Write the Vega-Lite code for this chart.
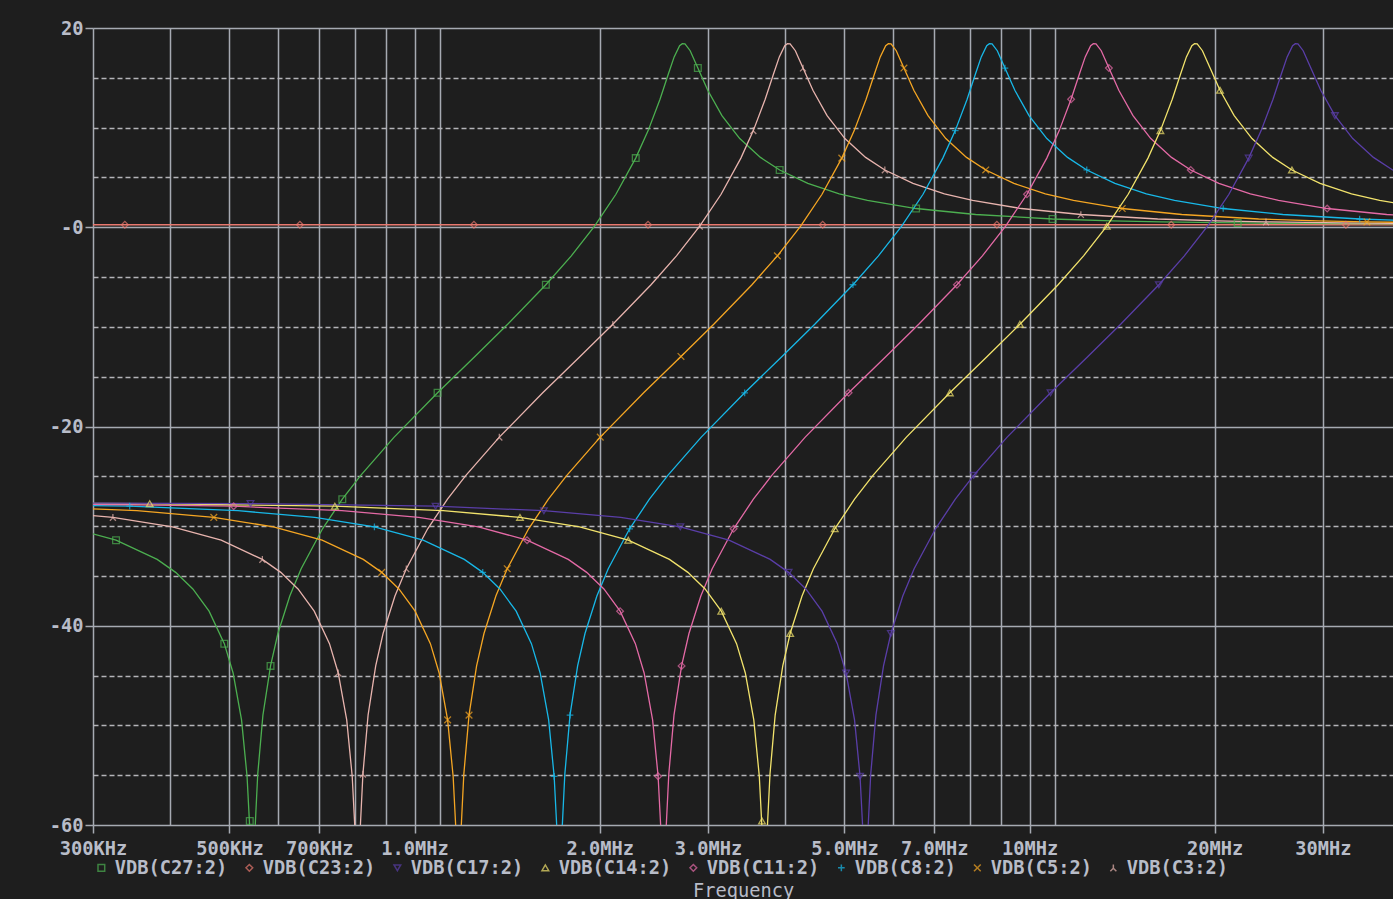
{
  "$schema": "https://vega.github.io/schema/vega-lite/v6.json",
  "width": 1300,
  "height": 797,
  "autosize": {"type": "none"},
  "padding": {"left": 93, "top": 28, "right": 0, "bottom": 74},
  "background": "#1e1e1e",
  "config": {"view": {"stroke": null}, "font": "DejaVu Sans Mono"},
  "datasets": {
    "curves": [
      {"t":"C23","f":0.25,"db":0.25},{"t":"C23","f":0.338,"db":0.25},{"t":"C23","f":0.651,"db":0.25},{"t":"C23","f":1.249,"db":0.25},{"t":"C23","f":2.397,"db":0.25},{"t":"C23","f":4.61,"db":0.25},{"t":"C23","f":8.85,"db":0.25},{"t":"C23","f":17.0,"db":0.25},{"t":"C23","f":32.7,"db":0.25},{"t":"C23","f":45,"db":0.25},

      {"t":"C27","f":0.2725,"db":-30.07},{"t":"C27","f":0.327,"db":-31.41},{"t":"C27","f":0.3815,"db":-33.34},{"t":"C27","f":0.4088,"db":-34.64},{"t":"C27","f":0.436,"db":-36.31},{"t":"C27","f":0.4633,"db":-38.54},{"t":"C27","f":0.4905,"db":-41.8},{"t":"C27","f":0.5069,"db":-44.74},{"t":"C27","f":0.5232,"db":-49.45},{"t":"C27","f":0.5341,"db":-55.11},{"t":"C27","f":0.5396,"db":-60.37},{"t":"C27","f":0.545,"db":-67.3},{"t":"C27","f":0.5505,"db":-60.26},{"t":"C27","f":0.5559,"db":-54.89},{"t":"C27","f":0.5668,"db":-48.97},{"t":"C27","f":0.5832,"db":-44.03},{"t":"C27","f":0.5995,"db":-40.78},{"t":"C27","f":0.6268,"db":-37.02},{"t":"C27","f":0.654,"db":-34.28},{"t":"C27","f":0.7085,"db":-30.27},{"t":"C27","f":0.763,"db":-27.3},{"t":"C27","f":0.8175,"db":-24.91},{"t":"C27","f":0.9265,"db":-21.07},{"t":"C27","f":1.09,"db":-16.62},{"t":"C27","f":1.2535,"db":-12.97},{"t":"C27","f":1.417,"db":-9.74},{"t":"C27","f":1.635,"db":-5.77},{"t":"C27","f":1.7985,"db":-2.87},{"t":"C27","f":1.962,"db":0.11},{"t":"C27","f":2.1255,"db":3.31},{"t":"C27","f":2.289,"db":6.94},{"t":"C27","f":2.398,"db":9.7},{"t":"C27","f":2.507,"db":12.85},{"t":"C27","f":2.5888,"db":15.45},{"t":"C27","f":2.6433,"db":17.1},{"t":"C27","f":2.6978,"db":18.22},{"t":"C27","f":2.725,"db":18.42},{"t":"C27","f":2.7523,"db":18.4},{"t":"C27","f":2.8068,"db":17.72},{"t":"C27","f":2.8885,"db":15.98},{"t":"C27","f":2.9975,"db":13.75},{"t":"C27","f":3.161,"db":11.2},{"t":"C27","f":3.379,"db":8.9},{"t":"C27","f":3.6515,"db":7.01},{"t":"C27","f":3.924,"db":5.75},{"t":"C27","f":4.36,"db":4.4},{"t":"C27","f":4.905,"db":3.36},{"t":"C27","f":5.45,"db":2.69},{"t":"C27","f":6.54,"db":1.88},{"t":"C27","f":8.175,"db":1.28},{"t":"C27","f":10.9,"db":0.83},{"t":"C27","f":13.625,"db":0.64},{"t":"C27","f":16.35,"db":0.54},{"t":"C27","f":21.8,"db":0.43},{"t":"C27","f":27.25,"db":0.38},{"t":"C27","f":39.24,"db":0.34},

      {"t":"C3","f":0.2424,"db":-28.45},{"t":"C3","f":0.3232,"db":-29.12},{"t":"C3","f":0.404,"db":-30.07},{"t":"C3","f":0.4848,"db":-31.41},{"t":"C3","f":0.5656,"db":-33.34},{"t":"C3","f":0.606,"db":-34.64},{"t":"C3","f":0.6464,"db":-36.31},{"t":"C3","f":0.6868,"db":-38.54},{"t":"C3","f":0.7272,"db":-41.8},{"t":"C3","f":0.7514,"db":-44.74},{"t":"C3","f":0.7757,"db":-49.45},{"t":"C3","f":0.7918,"db":-55.11},{"t":"C3","f":0.7999,"db":-60.37},{"t":"C3","f":0.808,"db":-67.3},{"t":"C3","f":0.8161,"db":-60.26},{"t":"C3","f":0.8242,"db":-54.89},{"t":"C3","f":0.8403,"db":-48.97},{"t":"C3","f":0.8646,"db":-44.03},{"t":"C3","f":0.8888,"db":-40.78},{"t":"C3","f":0.9292,"db":-37.02},{"t":"C3","f":0.9696,"db":-34.28},{"t":"C3","f":1.0504,"db":-30.27},{"t":"C3","f":1.1312,"db":-27.3},{"t":"C3","f":1.212,"db":-24.91},{"t":"C3","f":1.3736,"db":-21.07},{"t":"C3","f":1.616,"db":-16.62},{"t":"C3","f":1.8584,"db":-12.97},{"t":"C3","f":2.1008,"db":-9.74},{"t":"C3","f":2.424,"db":-5.77},{"t":"C3","f":2.6664,"db":-2.87},{"t":"C3","f":2.9088,"db":0.11},{"t":"C3","f":3.1512,"db":3.31},{"t":"C3","f":3.3936,"db":6.94},{"t":"C3","f":3.5552,"db":9.7},{"t":"C3","f":3.7168,"db":12.85},{"t":"C3","f":3.838,"db":15.45},{"t":"C3","f":3.9188,"db":17.1},{"t":"C3","f":3.9996,"db":18.22},{"t":"C3","f":4.04,"db":18.42},{"t":"C3","f":4.0804,"db":18.4},{"t":"C3","f":4.1612,"db":17.72},{"t":"C3","f":4.2824,"db":15.98},{"t":"C3","f":4.444,"db":13.75},{"t":"C3","f":4.6864,"db":11.2},{"t":"C3","f":5.0096,"db":8.9},{"t":"C3","f":5.4136,"db":7.01},{"t":"C3","f":5.8176,"db":5.75},{"t":"C3","f":6.464,"db":4.4},{"t":"C3","f":7.272,"db":3.36},{"t":"C3","f":8.08,"db":2.69},{"t":"C3","f":9.696,"db":1.88},{"t":"C3","f":12.12,"db":1.28},{"t":"C3","f":16.16,"db":0.83},{"t":"C3","f":20.2,"db":0.64},{"t":"C3","f":24.24,"db":0.54},{"t":"C3","f":32.32,"db":0.43},{"t":"C3","f":40.4,"db":0.38},

      {"t":"C5","f":0.2358,"db":-28.0},{"t":"C5","f":0.3537,"db":-28.45},{"t":"C5","f":0.4716,"db":-29.12},{"t":"C5","f":0.5895,"db":-30.07},{"t":"C5","f":0.7074,"db":-31.41},{"t":"C5","f":0.8253,"db":-33.34},{"t":"C5","f":0.8843,"db":-34.64},{"t":"C5","f":0.9432,"db":-36.31},{"t":"C5","f":1.0022,"db":-38.54},{"t":"C5","f":1.0611,"db":-41.8},{"t":"C5","f":1.0965,"db":-44.74},{"t":"C5","f":1.1318,"db":-49.45},{"t":"C5","f":1.1554,"db":-55.11},{"t":"C5","f":1.1672,"db":-60.37},{"t":"C5","f":1.179,"db":-67.3},{"t":"C5","f":1.1908,"db":-60.26},{"t":"C5","f":1.2026,"db":-54.89},{"t":"C5","f":1.2262,"db":-48.97},{"t":"C5","f":1.2615,"db":-44.03},{"t":"C5","f":1.2969,"db":-40.78},{"t":"C5","f":1.3559,"db":-37.02},{"t":"C5","f":1.4148,"db":-34.28},{"t":"C5","f":1.5327,"db":-30.27},{"t":"C5","f":1.6506,"db":-27.3},{"t":"C5","f":1.7685,"db":-24.91},{"t":"C5","f":2.0043,"db":-21.07},{"t":"C5","f":2.358,"db":-16.62},{"t":"C5","f":2.7117,"db":-12.97},{"t":"C5","f":3.0654,"db":-9.74},{"t":"C5","f":3.537,"db":-5.77},{"t":"C5","f":3.8907,"db":-2.87},{"t":"C5","f":4.2444,"db":0.11},{"t":"C5","f":4.5981,"db":3.31},{"t":"C5","f":4.9518,"db":6.94},{"t":"C5","f":5.1876,"db":9.7},{"t":"C5","f":5.4234,"db":12.85},{"t":"C5","f":5.6003,"db":15.45},{"t":"C5","f":5.7182,"db":17.1},{"t":"C5","f":5.8361,"db":18.22},{"t":"C5","f":5.895,"db":18.42},{"t":"C5","f":5.954,"db":18.4},{"t":"C5","f":6.0719,"db":17.72},{"t":"C5","f":6.2487,"db":15.98},{"t":"C5","f":6.4845,"db":13.75},{"t":"C5","f":6.8382,"db":11.2},{"t":"C5","f":7.3098,"db":8.9},{"t":"C5","f":7.8993,"db":7.01},{"t":"C5","f":8.4888,"db":5.75},{"t":"C5","f":9.432,"db":4.4},{"t":"C5","f":10.611,"db":3.36},{"t":"C5","f":11.79,"db":2.69},{"t":"C5","f":14.148,"db":1.88},{"t":"C5","f":17.685,"db":1.28},{"t":"C5","f":23.58,"db":0.83},{"t":"C5","f":29.475,"db":0.64},{"t":"C5","f":35.37,"db":0.54},{"t":"C5","f":47.16,"db":0.43},

      {"t":"C8","f":0.1721,"db":-27.74},{"t":"C8","f":0.3442,"db":-28.0},{"t":"C8","f":0.5163,"db":-28.45},{"t":"C8","f":0.6884,"db":-29.12},{"t":"C8","f":0.8605,"db":-30.07},{"t":"C8","f":1.0326,"db":-31.41},{"t":"C8","f":1.2047,"db":-33.34},{"t":"C8","f":1.2908,"db":-34.64},{"t":"C8","f":1.3768,"db":-36.31},{"t":"C8","f":1.4629,"db":-38.54},{"t":"C8","f":1.5489,"db":-41.8},{"t":"C8","f":1.6005,"db":-44.74},{"t":"C8","f":1.6522,"db":-49.45},{"t":"C8","f":1.6866,"db":-55.11},{"t":"C8","f":1.7038,"db":-60.37},{"t":"C8","f":1.721,"db":-67.3},{"t":"C8","f":1.7382,"db":-60.26},{"t":"C8","f":1.7554,"db":-54.89},{"t":"C8","f":1.7898,"db":-48.97},{"t":"C8","f":1.8415,"db":-44.03},{"t":"C8","f":1.8931,"db":-40.78},{"t":"C8","f":1.9792,"db":-37.02},{"t":"C8","f":2.0652,"db":-34.28},{"t":"C8","f":2.2373,"db":-30.27},{"t":"C8","f":2.4094,"db":-27.3},{"t":"C8","f":2.5815,"db":-24.91},{"t":"C8","f":2.9257,"db":-21.07},{"t":"C8","f":3.442,"db":-16.62},{"t":"C8","f":3.9583,"db":-12.97},{"t":"C8","f":4.4746,"db":-9.74},{"t":"C8","f":5.163,"db":-5.77},{"t":"C8","f":5.6793,"db":-2.87},{"t":"C8","f":6.1956,"db":0.11},{"t":"C8","f":6.7119,"db":3.31},{"t":"C8","f":7.2282,"db":6.94},{"t":"C8","f":7.5724,"db":9.7},{"t":"C8","f":7.9166,"db":12.85},{"t":"C8","f":8.1748,"db":15.45},{"t":"C8","f":8.3469,"db":17.1},{"t":"C8","f":8.519,"db":18.22},{"t":"C8","f":8.605,"db":18.42},{"t":"C8","f":8.6911,"db":18.4},{"t":"C8","f":8.8632,"db":17.72},{"t":"C8","f":9.1213,"db":15.98},{"t":"C8","f":9.4655,"db":13.75},{"t":"C8","f":9.9818,"db":11.2},{"t":"C8","f":10.67,"db":8.9},{"t":"C8","f":11.531,"db":7.01},{"t":"C8","f":12.391,"db":5.75},{"t":"C8","f":13.768,"db":4.4},{"t":"C8","f":15.489,"db":3.36},{"t":"C8","f":17.21,"db":2.69},{"t":"C8","f":20.652,"db":1.88},{"t":"C8","f":25.815,"db":1.28},{"t":"C8","f":34.42,"db":0.83},{"t":"C8","f":43.025,"db":0.64},

      {"t":"C11","f":0.254,"db":-27.74},{"t":"C11","f":0.508,"db":-28.0},{"t":"C11","f":0.762,"db":-28.45},{"t":"C11","f":1.016,"db":-29.12},{"t":"C11","f":1.27,"db":-30.07},{"t":"C11","f":1.524,"db":-31.41},{"t":"C11","f":1.778,"db":-33.34},{"t":"C11","f":1.905,"db":-34.64},{"t":"C11","f":2.032,"db":-36.31},{"t":"C11","f":2.159,"db":-38.54},{"t":"C11","f":2.286,"db":-41.8},{"t":"C11","f":2.3622,"db":-44.74},{"t":"C11","f":2.4384,"db":-49.45},{"t":"C11","f":2.4892,"db":-55.11},{"t":"C11","f":2.5146,"db":-60.37},{"t":"C11","f":2.54,"db":-67.3},{"t":"C11","f":2.5654,"db":-60.26},{"t":"C11","f":2.5908,"db":-54.89},{"t":"C11","f":2.6416,"db":-48.97},{"t":"C11","f":2.7178,"db":-44.03},{"t":"C11","f":2.794,"db":-40.78},{"t":"C11","f":2.921,"db":-37.02},{"t":"C11","f":3.048,"db":-34.28},{"t":"C11","f":3.302,"db":-30.27},{"t":"C11","f":3.556,"db":-27.3},{"t":"C11","f":3.81,"db":-24.91},{"t":"C11","f":4.318,"db":-21.07},{"t":"C11","f":5.08,"db":-16.62},{"t":"C11","f":5.842,"db":-12.97},{"t":"C11","f":6.604,"db":-9.74},{"t":"C11","f":7.62,"db":-5.77},{"t":"C11","f":8.382,"db":-2.87},{"t":"C11","f":9.144,"db":0.11},{"t":"C11","f":9.906,"db":3.31},{"t":"C11","f":10.668,"db":6.94},{"t":"C11","f":11.176,"db":9.7},{"t":"C11","f":11.684,"db":12.85},{"t":"C11","f":12.065,"db":15.45},{"t":"C11","f":12.319,"db":17.1},{"t":"C11","f":12.573,"db":18.22},{"t":"C11","f":12.7,"db":18.42},{"t":"C11","f":12.827,"db":18.4},{"t":"C11","f":13.081,"db":17.72},{"t":"C11","f":13.462,"db":15.98},{"t":"C11","f":13.97,"db":13.75},{"t":"C11","f":14.732,"db":11.2},{"t":"C11","f":15.748,"db":8.9},{"t":"C11","f":17.018,"db":7.01},{"t":"C11","f":18.288,"db":5.75},{"t":"C11","f":20.32,"db":4.4},{"t":"C11","f":22.86,"db":3.36},{"t":"C11","f":25.4,"db":2.69},{"t":"C11","f":30.48,"db":1.88},{"t":"C11","f":38.1,"db":1.28},{"t":"C11","f":50.8,"db":0.83},

      {"t":"C14","f":0.2041,"db":-27.68},{"t":"C14","f":0.371,"db":-27.74},{"t":"C14","f":0.742,"db":-28.0},{"t":"C14","f":1.113,"db":-28.45},{"t":"C14","f":1.484,"db":-29.12},{"t":"C14","f":1.855,"db":-30.07},{"t":"C14","f":2.226,"db":-31.41},{"t":"C14","f":2.597,"db":-33.34},{"t":"C14","f":2.7825,"db":-34.64},{"t":"C14","f":2.968,"db":-36.31},{"t":"C14","f":3.1535,"db":-38.54},{"t":"C14","f":3.339,"db":-41.8},{"t":"C14","f":3.4503,"db":-44.74},{"t":"C14","f":3.5616,"db":-49.45},{"t":"C14","f":3.6358,"db":-55.11},{"t":"C14","f":3.6729,"db":-60.37},{"t":"C14","f":3.71,"db":-67.3},{"t":"C14","f":3.7471,"db":-60.26},{"t":"C14","f":3.7842,"db":-54.89},{"t":"C14","f":3.8584,"db":-48.97},{"t":"C14","f":3.9697,"db":-44.03},{"t":"C14","f":4.081,"db":-40.78},{"t":"C14","f":4.2665,"db":-37.02},{"t":"C14","f":4.452,"db":-34.28},{"t":"C14","f":4.823,"db":-30.27},{"t":"C14","f":5.194,"db":-27.3},{"t":"C14","f":5.565,"db":-24.91},{"t":"C14","f":6.307,"db":-21.07},{"t":"C14","f":7.42,"db":-16.62},{"t":"C14","f":8.533,"db":-12.97},{"t":"C14","f":9.646,"db":-9.74},{"t":"C14","f":11.13,"db":-5.77},{"t":"C14","f":12.243,"db":-2.87},{"t":"C14","f":13.356,"db":0.11},{"t":"C14","f":14.469,"db":3.31},{"t":"C14","f":15.582,"db":6.94},{"t":"C14","f":16.324,"db":9.7},{"t":"C14","f":17.066,"db":12.85},{"t":"C14","f":17.6225,"db":15.45},{"t":"C14","f":17.9935,"db":17.1},{"t":"C14","f":18.3645,"db":18.22},{"t":"C14","f":18.55,"db":18.42},{"t":"C14","f":18.7355,"db":18.4},{"t":"C14","f":19.1065,"db":17.72},{"t":"C14","f":19.663,"db":15.98},{"t":"C14","f":20.405,"db":13.75},{"t":"C14","f":21.518,"db":11.2},{"t":"C14","f":23.002,"db":8.9},{"t":"C14","f":24.857,"db":7.01},{"t":"C14","f":26.712,"db":5.75},{"t":"C14","f":29.68,"db":4.4},{"t":"C14","f":33.39,"db":3.36},{"t":"C14","f":37.1,"db":2.69},{"t":"C14","f":44.52,"db":1.88},

      {"t":"C17","f":0.2705,"db":-27.68},{"t":"C17","f":0.541,"db":-27.74},{"t":"C17","f":1.082,"db":-28.0},{"t":"C17","f":1.623,"db":-28.45},{"t":"C17","f":2.164,"db":-29.12},{"t":"C17","f":2.705,"db":-30.07},{"t":"C17","f":3.246,"db":-31.41},{"t":"C17","f":3.787,"db":-33.34},{"t":"C17","f":4.0575,"db":-34.64},{"t":"C17","f":4.328,"db":-36.31},{"t":"C17","f":4.5985,"db":-38.54},{"t":"C17","f":4.869,"db":-41.8},{"t":"C17","f":5.0313,"db":-44.74},{"t":"C17","f":5.1936,"db":-49.45},{"t":"C17","f":5.3018,"db":-55.11},{"t":"C17","f":5.3559,"db":-60.37},{"t":"C17","f":5.41,"db":-67.3},{"t":"C17","f":5.4641,"db":-60.26},{"t":"C17","f":5.5182,"db":-54.89},{"t":"C17","f":5.6264,"db":-48.97},{"t":"C17","f":5.7887,"db":-44.03},{"t":"C17","f":5.951,"db":-40.78},{"t":"C17","f":6.2215,"db":-37.02},{"t":"C17","f":6.492,"db":-34.28},{"t":"C17","f":7.033,"db":-30.27},{"t":"C17","f":7.574,"db":-27.3},{"t":"C17","f":8.115,"db":-24.91},{"t":"C17","f":9.197,"db":-21.07},{"t":"C17","f":10.82,"db":-16.62},{"t":"C17","f":12.443,"db":-12.97},{"t":"C17","f":14.066,"db":-9.74},{"t":"C17","f":16.23,"db":-5.77},{"t":"C17","f":17.853,"db":-2.87},{"t":"C17","f":19.476,"db":0.11},{"t":"C17","f":21.099,"db":3.31},{"t":"C17","f":22.722,"db":6.94},{"t":"C17","f":23.804,"db":9.7},{"t":"C17","f":24.886,"db":12.85},{"t":"C17","f":25.6975,"db":15.45},{"t":"C17","f":26.2385,"db":17.1},{"t":"C17","f":26.7795,"db":18.22},{"t":"C17","f":27.05,"db":18.42},{"t":"C17","f":27.3205,"db":18.4},{"t":"C17","f":27.8615,"db":17.72},{"t":"C17","f":28.673,"db":15.98},{"t":"C17","f":29.755,"db":13.75},{"t":"C17","f":31.378,"db":11.2},{"t":"C17","f":33.542,"db":8.9},{"t":"C17","f":36.247,"db":7.01},{"t":"C17","f":38.952,"db":5.75},{"t":"C17","f":43.28,"db":4.4}
    ],
    "markers": [
      {"t":"C27","f":0.327,"db":-31.41},{"t":"C27","f":0.4905,"db":-41.8},{"t":"C27","f":0.5396,"db":-59.6},{"t":"C27","f":0.5832,"db":-44.03},{"t":"C27","f":0.763,"db":-27.3},{"t":"C27","f":1.09,"db":-16.62},{"t":"C27","f":1.635,"db":-5.77},{"t":"C27","f":2.289,"db":6.94},{"t":"C27","f":2.8885,"db":15.98},{"t":"C27","f":3.924,"db":5.75},{"t":"C27","f":6.54,"db":1.88},{"t":"C27","f":10.9,"db":0.83},{"t":"C27","f":21.8,"db":0.43},
      {"t":"C23","f":0.338,"db":0.25},{"t":"C23","f":0.651,"db":0.25},{"t":"C23","f":1.249,"db":0.25},{"t":"C23","f":2.397,"db":0.25},{"t":"C23","f":4.61,"db":0.25},{"t":"C23","f":8.85,"db":0.25},{"t":"C23","f":17.0,"db":0.25},{"t":"C23","f":32.7,"db":0.25},
      {"t":"C17","f":0.541,"db":-27.74},{"t":"C17","f":1.082,"db":-28.0},{"t":"C17","f":1.623,"db":-28.45},{"t":"C17","f":2.705,"db":-30.07},{"t":"C17","f":4.0575,"db":-34.64},{"t":"C17","f":5.0313,"db":-44.74},{"t":"C17","f":5.3018,"db":-55.11},{"t":"C17","f":5.951,"db":-40.78},{"t":"C17","f":8.115,"db":-24.91},{"t":"C17","f":10.82,"db":-16.62},{"t":"C17","f":16.23,"db":-5.77},{"t":"C17","f":22.722,"db":6.94},{"t":"C17","f":31.378,"db":11.2},
      {"t":"C14","f":0.371,"db":-27.74},{"t":"C14","f":0.742,"db":-28.0},{"t":"C14","f":1.484,"db":-29.12},{"t":"C14","f":2.226,"db":-31.41},{"t":"C14","f":3.1535,"db":-38.54},{"t":"C14","f":3.6729,"db":-59.6},{"t":"C14","f":4.081,"db":-40.78},{"t":"C14","f":4.823,"db":-30.27},{"t":"C14","f":7.42,"db":-16.62},{"t":"C14","f":9.646,"db":-9.74},{"t":"C14","f":13.356,"db":0.11},{"t":"C14","f":16.324,"db":9.7},{"t":"C14","f":20.405,"db":13.75},{"t":"C14","f":26.712,"db":5.75},
      {"t":"C11","f":0.508,"db":-28.0},{"t":"C11","f":1.524,"db":-31.41},{"t":"C11","f":2.159,"db":-38.54},{"t":"C11","f":2.4892,"db":-55.11},{"t":"C11","f":2.7178,"db":-44.03},{"t":"C11","f":3.302,"db":-30.27},{"t":"C11","f":5.08,"db":-16.62},{"t":"C11","f":7.62,"db":-5.77},{"t":"C11","f":9.906,"db":3.31},{"t":"C11","f":11.684,"db":12.85},{"t":"C11","f":13.462,"db":15.98},{"t":"C11","f":18.288,"db":5.75},{"t":"C11","f":30.48,"db":1.88},
      {"t":"C8","f":0.3442,"db":-28.0},{"t":"C8","f":0.8605,"db":-30.07},{"t":"C8","f":1.2908,"db":-34.64},{"t":"C8","f":1.6866,"db":-55.11},{"t":"C8","f":1.7898,"db":-48.97},{"t":"C8","f":2.2373,"db":-30.27},{"t":"C8","f":3.442,"db":-16.62},{"t":"C8","f":5.163,"db":-5.77},{"t":"C8","f":7.5724,"db":9.7},{"t":"C8","f":9.1213,"db":15.98},{"t":"C8","f":12.391,"db":5.75},{"t":"C8","f":20.652,"db":1.88},{"t":"C8","f":34.42,"db":0.83},
      {"t":"C5","f":0.4716,"db":-29.12},{"t":"C5","f":0.8843,"db":-34.64},{"t":"C5","f":1.1318,"db":-49.45},{"t":"C5","f":1.2262,"db":-48.97},{"t":"C5","f":1.4148,"db":-34.28},{"t":"C5","f":2.0043,"db":-21.07},{"t":"C5","f":2.7117,"db":-12.97},{"t":"C5","f":3.8907,"db":-2.87},{"t":"C5","f":4.9518,"db":6.94},{"t":"C5","f":6.2487,"db":15.98},{"t":"C5","f":8.4888,"db":5.75},{"t":"C5","f":14.148,"db":1.88},{"t":"C5","f":35.37,"db":0.54},
      {"t":"C3","f":0.3232,"db":-29.12},{"t":"C3","f":0.5656,"db":-33.34},{"t":"C3","f":0.7514,"db":-44.74},{"t":"C3","f":0.8242,"db":-54.89},{"t":"C3","f":0.9696,"db":-34.28},{"t":"C3","f":1.3736,"db":-21.07},{"t":"C3","f":2.1008,"db":-9.74},{"t":"C3","f":2.9088,"db":0.11},{"t":"C3","f":3.5552,"db":9.7},{"t":"C3","f":4.2824,"db":15.98},{"t":"C3","f":5.8176,"db":5.75},{"t":"C3","f":12.12,"db":1.28},{"t":"C3","f":24.24,"db":0.54}
    ]
  },
  "layer": [
    {
      "data": {"name": "curves"},
      "mark": {"type": "line", "clip": true, "strokeWidth": 1.3},
      "encoding": {
        "x": {
          "field": "f", "type": "quantitative",
          "scale": {"type": "log", "domain": [0.3, 39], "nice": false},
          "axis": {
            "orient": "bottom", "title": null, "labels": false, "ticks": false, "domain": false,
            "grid": true, "gridColor": "#a6aab2", "gridWidth": 1.5,
            "values": [0.3, 0.4, 0.5, 0.6, 0.7, 0.8, 0.9, 1, 1.1, 2, 3, 4, 5, 6, 7, 8, 9, 10, 11, 20, 30]
          }
        },
        "y": {
          "field": "db", "type": "quantitative",
          "scale": {"domain": [-60, 20], "nice": false},
          "axis": {
            "orient": "left", "title": null, "labels": false, "ticks": false, "domain": false,
            "grid": true, "gridColor": "#b4b4b8", "gridWidth": 1.3, "gridDash": [5, 3],
            "values": [-55, -50, -45, -35, -30, -25, -15, -10, -5, 5, 10, 15]
          }
        },
        "stroke": {
          "field": "t", "type": "nominal",
          "scale": {
            "domain": ["C3", "C5", "C8", "C11", "C14", "C17", "C23", "C27"],
            "range": ["#e8b4ae", "#f5a623", "#18b8e8", "#e46aa6", "#f2e36c", "#5a3ea8", "#e8786e", "#4caf50"]
          },
          "legend": null
        }
      }
    },
    {
      "data": {"name": "markers"},
      "mark": {"type": "point", "filled": false, "clip": true, "size": 45, "strokeWidth": 1.3},
      "encoding": {
        "x": {
          "field": "f", "type": "quantitative",
          "scale": {"type": "log", "domain": [0.3, 39], "nice": false},
          "axis": {
            "orient": "bottom", "grid": false, "domain": false,
            "values": [0.3, 0.5, 0.7, 1, 2, 3, 5, 7, 10, 20, 30],
            "labelExpr": "datum.value < 0.95 ? format(datum.value * 1000, 'd') + 'KHz' : datum.value < 9.5 ? format(datum.value, '.1f') + 'MHz' : format(datum.value, 'd') + 'MHz'",
            "labelFlush": false, "labelOverlap": false,
            "tickSize": 8, "tickColor": "#a6aab2", "tickWidth": 1.5,
            "labelFont": "DejaVu Sans Mono", "labelFontWeight": "bold", "labelFontSize": 18.7,
            "labelColor": "#b8bcc8", "labelPadding": 6,
            "title": "Frequency", "titleFont": "DejaVu Sans Mono", "titleFontWeight": "normal",
            "titleFontSize": 18.7, "titleColor": "#b8bcc8", "titleY": 71, "titleBaseline": "alphabetic"
          }
        },
        "y": {
          "field": "db", "type": "quantitative",
          "scale": {"domain": [-60, 20], "nice": false},
          "axis": {
            "orient": "left", "title": null, "domain": false,
            "grid": true, "gridColor": "#a6aab2", "gridWidth": 1.5,
            "values": [-60, -40, -20, 0, 20],
            "labelExpr": "datum.value == 0 ? '-0' : (datum.value < 0 ? '-' + abs(datum.value) : '' + datum.value)",
            "labelFlush": false, "labelOverlap": false,
            "tickSize": 8, "tickColor": "#a6aab2", "tickWidth": 1.5,
            "labelFont": "DejaVu Sans Mono", "labelFontWeight": "bold", "labelFontSize": 18.7,
            "labelColor": "#b8bcc8", "labelPadding": 2
          }
        },
        "color": {
          "field": "t", "type": "nominal",
          "scale": {
            "domain": ["C27", "C23", "C17", "C14", "C11", "C8", "C5", "C3"],
            "range": ["#4caf50", "#e8786e", "#5a3ea8", "#f2e36c", "#e46aa6", "#18b8e8", "#f5a623", "#e8b4ae"]
          },
          "legend": {
            "orient": "none", "legendX": -1, "legendY": 830, "direction": "horizontal", "columns": 8,
            "title": null, "padding": 0, "columnPadding": 12, "labelOffset": 4,
            "labelExpr": "'VDB(' + datum.label + ':2)'",
            "labelFont": "DejaVu Sans Mono", "labelFontWeight": "bold", "labelFontSize": 18.7,
            "labelColor": "#b8bcc8", "symbolSize": 45, "symbolStrokeWidth": 1.5
          }
        },
        "shape": {
          "field": "t", "type": "nominal",
          "scale": {
            "domain": ["C27", "C23", "C17", "C14", "C11", "C8", "C5", "C3"],
            "range": ["square", "diamond", "triangle-down", "triangle-up", "diamond", "M-1,0H1M0,-1V1", "M-1,-1L1,1M-1,1L1,-1", "M0,-1V0.1L-0.9,1M0,0.1L0.9,1"]
          }
        }
      }
    }
  ],
  "resolve": {"axis": {"x": "independent", "y": "independent"}}
}
